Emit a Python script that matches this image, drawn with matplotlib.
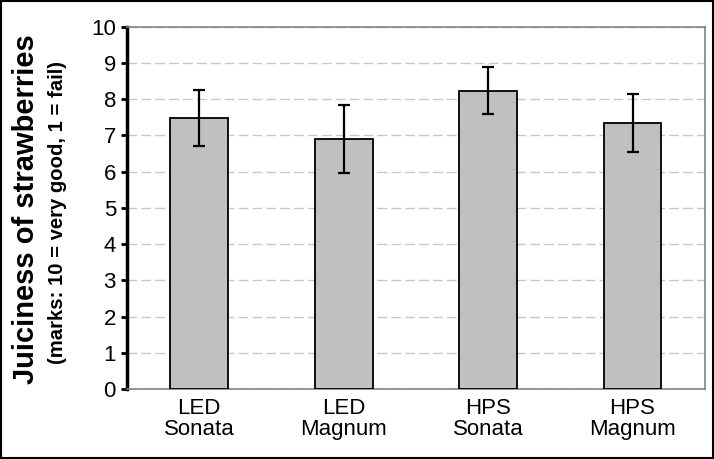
import matplotlib.pyplot as plt
from matplotlib.patches import Rectangle
import numpy as np

plt.rcParams['font.family'] = ['Liberation Sans', 'DejaVu Sans']

categories = ["LED\nSonata", "LED\nMagnum", "HPS\nSonata", "HPS\nMagnum"]
juiciness = [7.48, 6.91, 8.23, 7.35]
errors = [0.76, 0.94, 0.65, 0.80]
yticks = list(range(0, 11))

fig = plt.figure(figsize=(7.14, 4.59), dpi=100)
ax = fig.add_axes([0.178, 0.152, 0.809, 0.790])

x = np.arange(len(categories))
ax.bar(x, juiciness, width=0.4, color="#c0c0c0", edgecolor="black", linewidth=1.3, zorder=3)
ax.errorbar(x, juiciness, yerr=errors, fmt="none", ecolor="black",
            elinewidth=1.6, capsize=4, capthick=1.6, zorder=4)

ax.set_xlim(-0.5, 3.5)
ax.set_ylim(0, 10)
ax.set_yticks(yticks)
ax.set_xticks(x)
ax.set_xticklabels(categories, fontsize=16, linespacing=1.05)
ax.tick_params(axis="x", length=0, pad=6)
ax.tick_params(axis="y", direction="out", length=4, width=2, labelsize=16, pad=4)

ax.yaxis.grid(True, linestyle=(0, (7, 3)), color="#c8c8c8", linewidth=1, zorder=0)
ax.set_axisbelow(True)

for side in ["top", "right", "bottom"]:
    ax.spines[side].set_color("#808080")
    ax.spines[side].set_linewidth(1.2)
ax.spines["left"].set_color("black")
ax.spines["left"].set_linewidth(2.5)

fig.text(0.036, 0.545, "Juiciness of strawberries", rotation=90, ha="center", va="center",
         fontsize=21, fontweight="bold")
fig.text(0.081, 0.536, "(marks: 10 = very good, 1 = fail)", rotation=90, ha="center", va="center",
         fontsize=14.6, fontweight="bold")

fig.patches.append(Rectangle((0.002, 0.003), 0.996, 0.994, transform=fig.transFigure,
                             fill=False, edgecolor="black", linewidth=1.5))

fig.savefig("out.png", dpi=100)
